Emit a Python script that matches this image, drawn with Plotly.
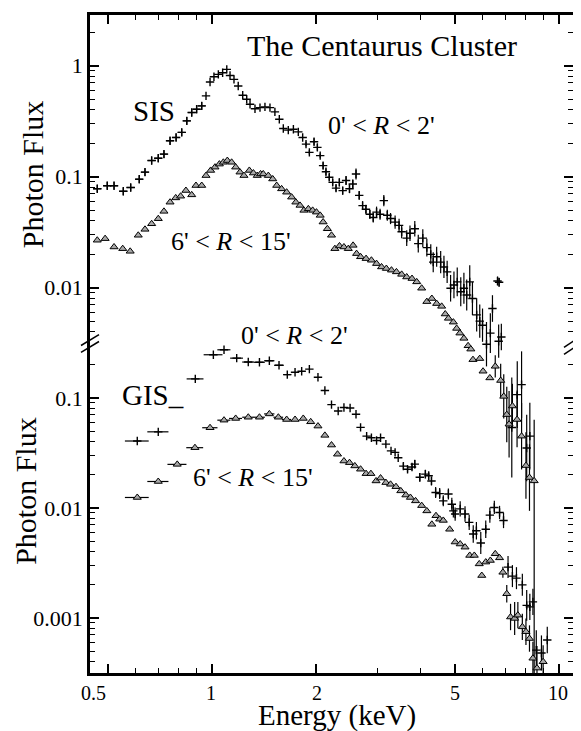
import plotly.graph_objects as go

# ---------------- data ----------------
# SIS, 0' < R < 2'
sis_in_E = [0.467,0.499,0.522,0.555,0.583,0.617,0.641,0.670,0.700,0.727,
            0.757,0.788,0.818,0.846,0.874,0.903,0.934,0.961,0.987,1.013,
            1.043,1.073,1.103,1.127,1.157,1.190,1.226,1.259,1.287,1.330,
            1.375,1.421,1.469,1.518,1.563,1.605,1.659,1.716,1.773,1.825,
            1.866,1.908,1.968,2.012,2.050,2.090,2.130,2.177,2.227,2.277,
            2.328,2.380,2.434,2.490,2.545,2.600,2.656,2.716,2.777,2.850,
            2.915,2.980,3.050,3.127,3.200,3.270,3.370,3.460,3.520,3.640,
            3.720,3.840,3.930,4.050,4.160,4.270,4.340,4.440,4.560,4.660,
            4.760,4.870,4.980,5.090,5.210,5.320,5.420,5.530,5.630,5.790,
            5.910,6.020,6.180,6.340,6.430,6.650,6.700,6.720,6.820,7.310,
            7.580,7.800,8.070,8.240]
sis_in_F = [0.078,0.083,0.083,0.074,0.080,0.095,0.110,0.140,0.147,0.160,
            0.211,0.226,0.251,0.319,0.379,0.406,0.435,0.535,0.714,0.797,
            0.836,0.866,0.927,0.818,0.754,0.657,0.542,0.499,0.450,0.410,
            0.420,0.426,0.420,0.384,0.330,0.272,0.263,0.268,0.254,0.226,
            0.197,0.166,0.207,0.184,0.155,0.126,0.111,0.099,0.089,0.079,
            0.089,0.075,0.0925,0.078,0.086,0.106,0.068,0.055,0.051,0.046,
            0.043,0.048,0.046,0.061,0.045,0.042,0.039,0.0365,0.032,0.028,
            0.031,0.034,0.025,0.028,0.023,0.020,0.017,0.019,0.017,0.0154,
            0.0139,0.0099,0.0106,0.0113,0.0092,0.0099,0.0086,0.0113,0.0080,0.0057,
            0.0050,0.0046,0.0031,0.0039,0.0065,0.0115,0.0033,0.0112,0.0036,0.00055,
            0.00109,0.00134,0.00036,0.00046]
# vertical error half-length in dex, horizontal half-bin in keV
sis_in_dy = [0.035]*17 + [0.0]*23 + [
            0.02,0.02,0.03,0.03,0.02,0.03,0.03,0.03,0.03,0.03,
            0.035,0.035,0.04,0.04,0.04,0.05,0.04,0.04,0.04,0.04,
            0.045,0.05,0.05,0.05,0.05,0.05,0.06,0.06,0.06,0.07,
            0.07,0.07,0.08,0.08,0.08,0.09,0.09,0.09,0.10,0.10,
            0.10,0.12,0.12,0.13,0.13,0.14,0.14,0.15,0.15,0.15,
            0.15,0.15,0.20,0.18,0.12,0.04,0.15,0.04,0.12,0.45,
            0.30,0.30,0.30,0.30]
sis_in_dx = [0.013,0.013,0.014,0.015,0.016,0.016,0.017,0.018,0.018,0.019,
             0.019,0.020,0.021,0.022,0.022,0.023,0.024] + [0.0]*87

# SIS, 6' < R < 15'
sis_out_E = [0.467,0.492,0.522,0.553,0.581,0.613,0.641,0.670,0.700,0.727,
             0.757,0.786,0.812,0.841,0.874,0.899,0.934,0.961,0.991,1.020,
             1.050,1.078,1.107,1.139,1.170,1.204,1.236,1.281,1.316,1.350,
             1.380,1.405,1.453,1.496,1.536,1.587,1.641,1.696,1.744,1.793,
             1.840,1.895,1.950,2.000,2.050,2.090,2.150,2.210,2.260,2.330,
             2.400,2.470,2.550,2.610,2.680,2.780,2.880,2.980,3.080,3.180,
             3.290,3.400,3.520,3.640,3.770,3.890,4.020,4.160,4.300,4.440,
             4.590,4.700,4.800,4.960,5.070,5.180,5.320,5.470,5.570,5.650,
             5.910,6.040,6.320,6.550,6.790,6.930,7.070,7.180,7.340,7.570,
             7.800,8.030,8.220,8.480]
sis_out_F = [0.0268,0.0277,0.0233,0.0225,0.0213,0.0297,0.0336,0.0377,0.0419,0.0488,
             0.059,0.0645,0.0668,0.0752,0.0687,0.0834,0.0834,0.1025,0.114,0.122,
             0.130,0.135,0.140,0.135,0.122,0.110,0.1025,0.114,0.108,0.1025,
             0.106,0.106,0.1025,0.0955,0.0834,0.0778,0.0726,0.0655,0.059,0.0552,
             0.0498,0.0514,0.0498,0.048,0.0449,0.0391,0.034,0.0297,0.0225,0.0238,
             0.0233,0.0225,0.0241,0.0203,0.019,0.0183,0.0177,0.0165,0.0154,0.0149,
             0.0144,0.0139,0.0132,0.0125,0.0121,0.0113,0.0099,0.0075,0.0080,0.0072,
             0.0068,0.0058,0.0053,0.0049,0.0043,0.0039,0.0035,0.0030,0.0028,0.00225,
             0.0023,0.00177,0.00154,0.00196,0.00146,0.00105,0.00072,0.00059,0.00086,0.00065,
             0.00046,0.00025,0.000195,0.000182]
sis_out_dy_up = [0.0]*83 + [0.10,0.15,0.20,0.25,0.30,0.20,0.25,0.30,0.30,0.30,0.55]
sis_out_dy_dn = [0.0]*83 + [0.10,0.15,0.20,0.25,0.30,0.20,0.25,0.30,0.30,0.30,2.00]

# GIS, 0' < R < 2'
gis_in_E = [0.609,0.700,0.895,1.009,1.083,1.178,1.272,1.370,1.463,1.560,
            1.648,1.735,1.813,1.908,2.020,2.115,2.210,2.310,2.400,2.500,
            2.600,2.680,2.790,2.880,2.980,3.060,3.170,3.280,3.370,3.440,
            3.560,3.660,3.770,3.840,3.970,4.120,4.210,4.290,4.410,4.530,
            4.640,4.800,4.910,4.960,5.020,5.190,5.360,5.510,5.660,5.780,
            5.950,6.150,6.320,6.510,6.740,6.920,7.130,7.340,7.540,7.840,
            8.070,8.240,8.410,8.600,8.900,9.250]
gis_in_F = [0.0406,0.0492,0.149,0.247,0.274,0.230,0.212,0.211,0.218,0.198,
            0.163,0.171,0.175,0.183,0.154,0.117,0.087,0.076,0.082,0.081,
            0.071,0.054,0.045,0.0435,0.041,0.0435,0.038,0.033,0.032,0.0286,
            0.024,0.0225,0.0236,0.025,0.019,0.0203,0.0196,0.0176,0.0138,0.0135,
            0.0116,0.0134,0.0108,0.0094,0.0088,0.0098,0.0088,0.0074,0.0058,0.0062,
            0.0048,0.0064,0.0086,0.0101,0.0091,0.0077,0.0029,0.0024,0.0023,0.0020,
            0.0013,0.00126,0.0014,0.00051,0.00048,0.00063]
gis_in_dy = [0.0]*30 + [
            0.03,0.03,0.03,0.04,0.04,0.04,0.04,0.04,0.05,0.05,
            0.05,0.05,0.06,0.06,0.06,0.07,0.07,0.07,0.08,0.08,
            0.10,0.08,0.07,0.06,0.06,0.07,0.10,0.10,0.10,0.10,
            0.14,0.12,0.12,0.18,0.16,0.12]
gis_in_dx = [0.048,0.049,0.050,0.063,0.047,0.050,0.050,0.050,0.050,0.050,
             0.040] + [0.0]*55

# GIS, 6' < R < 15'
gis_out_E = [0.609,0.700,0.794,0.893,0.987,1.083,1.170,1.272,1.370,1.463,
             1.553,1.641,1.735,1.832,1.925,2.020,2.115,2.210,2.300,2.400,
             2.490,2.580,2.680,2.780,2.870,2.970,3.060,3.170,3.270,3.390,
             3.500,3.620,3.730,3.860,4.020,4.160,4.300,4.420,4.530,4.640,
             4.840,5.020,5.190,5.360,5.530,5.700,5.890,5.990,6.150,6.340,
             6.550,6.740,6.890,7.070,7.250,7.450,7.610,7.840,8.030,8.220,
             8.410,8.640,9.000]
gis_out_F = [0.01245,0.0174,0.0249,0.0353,0.0536,0.0628,0.0651,0.0668,0.0668,0.0716,
             0.0668,0.0637,0.0637,0.0651,0.0607,0.0555,0.0457,0.0373,0.0308,0.0267,
             0.0258,0.0241,0.0225,0.0205,0.0205,0.0176,0.0187,0.017,0.0164,0.0156,
             0.0143,0.0131,0.01245,0.0116,0.0105,0.0094,0.0071,0.0085,0.0079,0.0077,
             0.0064,0.0049,0.0047,0.0044,0.0037,0.0037,0.0031,0.00243,0.00322,0.00333,
             0.00383,0.00352,0.0026,0.00166,0.00102,0.00099,0.00106,0.00083,0.00075,0.00065,
             0.00043,0.00035,0.0004]
gis_out_dy = [0.0]*52 + [0.05,0.08,0.12,0.15,0.12,0.12,0.12,0.12,0.15,0.20,0.15]
gis_out_dx = [0.048,0.049,0.050,0.050,0.050,0.047,0.050,0.050,0.050,0.050,
              0.050,0.050] + [0.0]*51

x_tickvals = [0.5, 1, 2, 5, 10]
x_ticktext = ["0.5", "1", "2", "5", "10"]
x_minor = [0.6, 0.7, 0.8, 0.9, 3, 4, 6, 7, 8, 9]
sis_tickvals = [1, 0.1, 0.01]
sis_ticktext = ["1", "0.1", "0.01"]
sis_minor = [2, 0.2, 0.3, 0.4, 0.5, 0.6, 0.7, 0.8, 0.9,
             0.02, 0.03, 0.04, 0.05, 0.06, 0.07, 0.08, 0.09,
             0.004, 0.005, 0.006, 0.007, 0.008, 0.009]
gis_tickvals = [0.1, 0.01, 0.001]
gis_ticktext = ["0.1", "0.01", "0.001"]
gis_minor = [0.2, 0.02, 0.03, 0.04, 0.05, 0.06, 0.07, 0.08, 0.09,
             0.002, 0.003, 0.004, 0.005, 0.006, 0.007, 0.008, 0.009,
             0.0004, 0.0005, 0.0006, 0.0007, 0.0008, 0.0009]

# ---------------- figure ----------------
FONT = "Liberation Serif, Times New Roman, Times, serif"
PAGE_OFF = 8  # default body margin of the html page


def errs(F, up_dex, dn_dex):
    up = [f * (10 ** d - 1) for f, d in zip(F, up_dex)]
    dn = [f * (1 - 10 ** (-d)) for f, d in zip(F, dn_dex)]
    return up, dn


def ebar(up, dn):
    return dict(type="data", symmetric=False, array=up, arrayminus=dn,
                thickness=1.2, width=0, color="black")


def xbar(dx):
    return dict(type="data", array=dx, thickness=1.2, width=0, color="black")


cross = dict(symbol="cross-thin", size=6, color="black",
             line=dict(width=1.4, color="black"))
tri = dict(symbol="triangle-up", size=7, color="#a8a8a8",
           line=dict(width=1, color="black"))

fig = go.Figure()

u, d = errs(sis_in_F, sis_in_dy, sis_in_dy)
fig.add_trace(go.Scatter(x=sis_in_E, y=sis_in_F, mode="markers", marker=cross,
                         error_y=ebar(u, d), error_x=xbar(sis_in_dx),
                         yaxis="y", showlegend=False))
u, d = errs(sis_out_F, sis_out_dy_up, sis_out_dy_dn)
fig.add_trace(go.Scatter(x=sis_out_E, y=sis_out_F, mode="markers", marker=tri,
                         error_y=ebar(u, d), yaxis="y", showlegend=False))
u, d = errs(gis_in_F, gis_in_dy, gis_in_dy)
fig.add_trace(go.Scatter(x=gis_in_E, y=gis_in_F, mode="markers", marker=cross,
                         error_y=ebar(u, d), error_x=xbar(gis_in_dx),
                         yaxis="y2", showlegend=False))
u, d = errs(gis_out_F, gis_out_dy, gis_out_dy)
fig.add_trace(go.Scatter(x=gis_out_E, y=gis_out_F, mode="markers", marker=tri,
                         error_y=ebar(u, d), error_x=xbar(gis_out_dx),
                         yaxis="y2", showlegend=False))

axis_common = dict(showline=True, linewidth=2.6, linecolor="black",
                   mirror="ticks", ticks="inside", ticklen=9, tickwidth=1.5,
                   tickcolor="black", showgrid=False, zeroline=False,
                   tickfont=dict(family=FONT, size=22, color="black"))

fig.update_layout(
    width=581 - PAGE_OFF, height=731 - PAGE_OFF,
    margin=dict(l=90 - PAGE_OFF, r=8, t=12 - PAGE_OFF, b=58),
    paper_bgcolor="white", plot_bgcolor="white",
    font=dict(family=FONT, color="black"),
    xaxis=dict(type="log", range=[-0.3516, 1.0403], tickmode="array",
               tickvals=x_tickvals, showticklabels=False,
               minor=dict(tickmode="array", tickvals=x_minor, ticks="inside",
                          ticklen=5, tickwidth=1.2, tickcolor="black"),
               **axis_common),
    yaxis=dict(type="log", range=[-5.471, 0.4574], tickmode="array",
               tickvals=sis_tickvals, ticktext=sis_ticktext,
               minor=dict(tickmode="array", tickvals=sis_minor, ticks="inside",
                          ticklen=5, tickwidth=1.2, tickcolor="black"),
               **axis_common),
    yaxis2=dict(type="log", range=[-3.5005, 2.4814], overlaying="y", side="left",
                anchor="x", tickmode="array",
                tickvals=gis_tickvals, ticktext=gis_ticktext,
                minor=dict(tickmode="array", tickvals=gis_minor, ticks="inside",
                           ticklen=5, tickwidth=1.2, tickcolor="black"),
                **axis_common),
)


def px_x(px):
    return (px - 90) / 483.0


def px_y(py):
    return (673 - py) / 661.0


def ann(text, x, y, size, angle=0):
    fig.add_annotation(text=text, x=px_x(x), y=px_y(y), xref="paper", yref="paper",
                       showarrow=False, textangle=angle,
                       font=dict(family=FONT, size=size, color="black"),
                       xanchor="center", yanchor="middle")


ann("The Centaurus Cluster", 382, 43, 30)
ann("SIS", 154, 108, 29)
ann("0' &lt; <i>R</i> &lt; 2'", 381, 123, 26)
ann("6' &lt; <i>R</i> &lt; 15'", 231, 240, 26)
ann("0' &lt; <i>R</i> &lt; 2'", 294, 334, 26)
ann("GIS_", 153, 394, 29)
ann("6' &lt; <i>R</i> &lt; 15'", 253, 477, 26)
ann("Photon Flux", 32, 172, 30, -90)
ann("Photon Flux", 26, 490, 30, -90)
ann("Energy (keV)", 337, 716, 29)

# energy tick labels, placed as in the figure (0.5 is offset left of its tick)
for lab, xp in zip(x_ticktext, [93, 211, 317, 455, 558]):
    ann(lab, xp, 693, 20)

# axis break marks
for (x0, y0, x1, y1) in [(81, 344, 99, 333), (81, 351, 99, 340),
                         (564, 346, 580, 335), (564, 353, 580, 342)]:
    fig.add_shape(type="line", xref="paper", yref="paper",
                  x0=px_x(x0), y0=px_y(y0), x1=px_x(x1), y1=px_y(y1),
                  line=dict(color="black", width=1.5))

fig.write_html("out.html")
